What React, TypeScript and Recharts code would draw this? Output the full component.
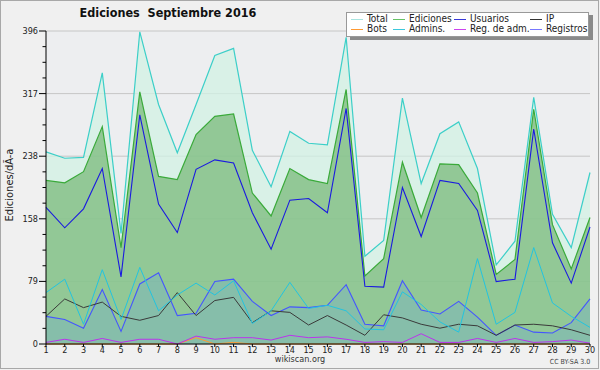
import { ComposedChart, Area, Line, XAxis, YAxis, CartesianGrid } from "recharts";

const days = [1, 2, 3, 4, 5, 6, 7, 8, 9, 10, 11, 12, 13, 14, 15, 16, 17, 18, 19, 20, 21, 22, 23, 24, 25, 26, 27, 28, 29, 30];
const total = [243, 235, 236, 343, 140, 395, 303, 242, 303, 365, 374, 245, 199, 269, 254, 252, 388, 111, 131, 311, 203, 266, 281, 222, 100, 130, 312, 164, 122, 217];
const ediciones = [207, 204, 218, 275, 122, 319, 212, 208, 265, 288, 291, 191, 162, 222, 208, 203, 322, 86, 108, 230, 160, 228, 227, 191, 88, 107, 297, 151, 95, 160];
const usuarios = [173, 147, 171, 222, 85, 290, 177, 141, 221, 233, 229, 166, 120, 182, 184, 166, 298, 73, 72, 198, 136, 207, 203, 169, 79, 82, 272, 128, 77, 148];
const ip = [35, 57, 46, 53, 35, 30, 36, 65, 36, 55, 59, 27, 42, 40, 24, 36, 24, 11, 37, 33, 25, 20, 25, 23, 11, 24, 25, 23, 18, 11];
const bots = [0, 0, 0, 0, 0, 0, 0, 0, 8, 0, 2, 0, 0, 0, 0, 0, 0, 0, 0, 0, 0, 0, 0, 0, 0, 0, 0, 0, 0, 0];
const admins = [65, 82, 25, 94, 31, 97, 42, 62, 77, 62, 80, 26, 42, 78, 45, 49, 42, 19, 18, 66, 50, 28, 15, 108, 25, 40, 122, 52, 35, 21];
const regAdm = [2, 6, 2, 7, 2, 6, 6, 0, 10, 6, 8, 8, 5, 11, 8, 9, 6, 2, 3, 2, 13, 2, 2, 7, 2, 7, 2, 3, 5, 1];
const registros = [35, 31, 20, 69, 16, 76, 90, 36, 39, 79, 82, 54, 36, 47, 46, 49, 75, 25, 23, 80, 43, 38, 54, 34, 11, 24, 15, 14, 27, 57];

const yMajorTicks = [0, 79.2, 158.4, 237.6, 316.8, 396];
const yTickLabels = ["0", "79", "158", "238", "317", "396"];
const yMinorStep = 19.8;

const data = days.map((d, i) => ({
  day: d,
  total: total[i],
  ediciones: ediciones[i],
  usuarios: usuarios[i],
  ip: ip[i],
  bots: bots[i],
  admins: admins[i],
  regAdm: regAdm[i],
  registros: registros[i],
}));

const yTicks = Array.from({ length: 21 }, (_, i) => +(i * yMinorStep).toFixed(1));

const FONT = "'DejaVu Sans Condensed', 'DejaVu Sans', sans-serif";

const legendItems = [
  { name: "Total", color: "#a8e4e0" },
  { name: "Ediciones", color: "#66c266" },
  { name: "Usuarios", color: "#3838d8" },
  { name: "IP", color: "#333333" },
  { name: "Bots", color: "#ff9a33" },
  { name: "Admins.", color: "#3cc8dc" },
  { name: "Reg. de adm.", color: "#cc44ee" },
  { name: "Registros", color: "#7878ff" },
];
const legendCols = [4, 46, 107, 183];

const YTick = (props: any) => {
  const { x, y, payload } = props;
  const idx = yMajorTicks.findIndex((v) => Math.abs(v - payload.value) < 0.5);
  const major = idx >= 0;
  return (
    <g>
      <line x1={x - (major ? 7 : 3.5)} x2={x} y1={y} y2={y} stroke="#000" strokeWidth={1} />
      {major && (
        <text x={x - 8} y={y} dy={3} textAnchor="end" fontSize={9} fontFamily={FONT} fill="#222">
          {yTickLabels[idx]}
        </text>
      )}
    </g>
  );
};

const Legend = () => (
  <div
    style={{
      position: "absolute",
      left: 346,
      top: 12,
      width: 243,
      height: 25,
      boxSizing: "border-box",
      background: "#fff",
      border: "1px solid #999",
      boxShadow: "4px 3px 0 #8a8a8a",
      fontFamily: FONT,
      fontSize: 10,
      color: "#222",
    }}
  >
    {legendItems.map((it, i) => {
      const col = i % 4;
      const row = Math.floor(i / 4);
      return (
        <div
          key={it.name}
          style={{ position: "absolute", left: legendCols[col], top: 1 + row * 10, height: 10, lineHeight: "10px", whiteSpace: "nowrap" }}
        >
          <span style={{ position: "absolute", left: 0, top: 5, width: 12, height: 1, background: it.color }} />
          <span style={{ marginLeft: 16 }}>{it.name}</span>
        </div>
      );
    })}
  </div>
);

export default function App() {
  return (
    <div style={{ position: "absolute", left: 0, top: 0, width: 600, height: 370, background: "#f0f0f0" }}>
      <ComposedChart width={600} height={370} data={data} margin={{ top: 31, right: 10, bottom: 0, left: 0 }}>
        <CartesianGrid vertical={false} horizontalValues={yMajorTicks} stroke="#c6c6c6" fill="#edeef0" />
        <XAxis
          dataKey="day"
          type="number"
          domain={[1, 30]}
          ticks={days}
          interval={0}
          height={26}
          tickSize={3}
          tickMargin={0}
          axisLine={{ stroke: "#000" }}
          tickLine={{ stroke: "#000" }}
          tick={{ fontSize: 9, fontFamily: FONT, fill: "#222" }}
        />
        <YAxis
          type="number"
          domain={[0, 396]}
          ticks={yTicks}
          interval={0}
          width={46}
          tickSize={0}
          tickMargin={0}
          tickLine={false}
          axisLine={{ stroke: "#000" }}
          tick={(p: any) => <YTick {...p} />}
        />
        <Area type="linear" dataKey="total" stroke="#3ccfc8" strokeWidth={1.2} fill="#d2f2e4" fillOpacity={0.75} dot={false} activeDot={false} isAnimationActive={false} />
        <Area type="linear" dataKey="ediciones" stroke="#3aaa3a" strokeWidth={1.2} fill="#63ad60" fillOpacity={0.6} dot={false} activeDot={false} isAnimationActive={false} />
        <Area type="linear" dataKey="registros" stroke="#4455ff" strokeWidth={1.1} fill="#64a0e6" fillOpacity={0.25} dot={false} activeDot={false} isAnimationActive={false} />
        <Line type="linear" dataKey="bots" stroke="#ff9a33" strokeWidth={1} dot={false} activeDot={false} isAnimationActive={false} />
        <Line type="linear" dataKey="regAdm" stroke="#bb33ee" strokeWidth={1} dot={false} activeDot={false} isAnimationActive={false} />
        <Line type="linear" dataKey="ip" stroke="#3a3a3a" strokeWidth={1} dot={false} activeDot={false} isAnimationActive={false} />
        <Line type="linear" dataKey="admins" stroke="#22c4e0" strokeWidth={1} dot={false} activeDot={false} isAnimationActive={false} />
        <Line type="linear" dataKey="usuarios" stroke="#1a1ae0" strokeWidth={1.1} dot={false} activeDot={false} isAnimationActive={false} />
      </ComposedChart>
      <div
        style={{
          position: "absolute",
          left: 0,
          top: 5,
          width: 336,
          textAlign: "center",
          whiteSpace: "pre",
          fontFamily: FONT,
          fontWeight: "bold",
          fontSize: 12.5,
          color: "#111",
        }}
      >
        {"Ediciones  Septiembre 2016"}
      </div>
      <div
        style={{
          position: "absolute",
          left: 9,
          top: 185,
          transform: "translate(-50%, -50%) rotate(-90deg)",
          whiteSpace: "nowrap",
          fontFamily: FONT,
          fontSize: 11,
          color: "#222",
        }}
      >
        Ediciones/dÃ-a
      </div>
      <div style={{ position: "absolute", left: 250, top: 354, width: 100, textAlign: "center", fontFamily: FONT, fontSize: 9, color: "#333" }}>
        wikiscan.org
      </div>
      <div style={{ position: "absolute", left: 530, top: 358, width: 80, textAlign: "center", fontFamily: FONT, fontSize: 7, color: "#444" }}>
        CC BY-SA 3.0
      </div>
      <Legend />
      <div style={{ position: "absolute", left: 0, top: 0, width: 599, height: 369, boxSizing: "border-box", border: "1px solid #a8a8a8", pointerEvents: "none" }} />
    </div>
  );
}
